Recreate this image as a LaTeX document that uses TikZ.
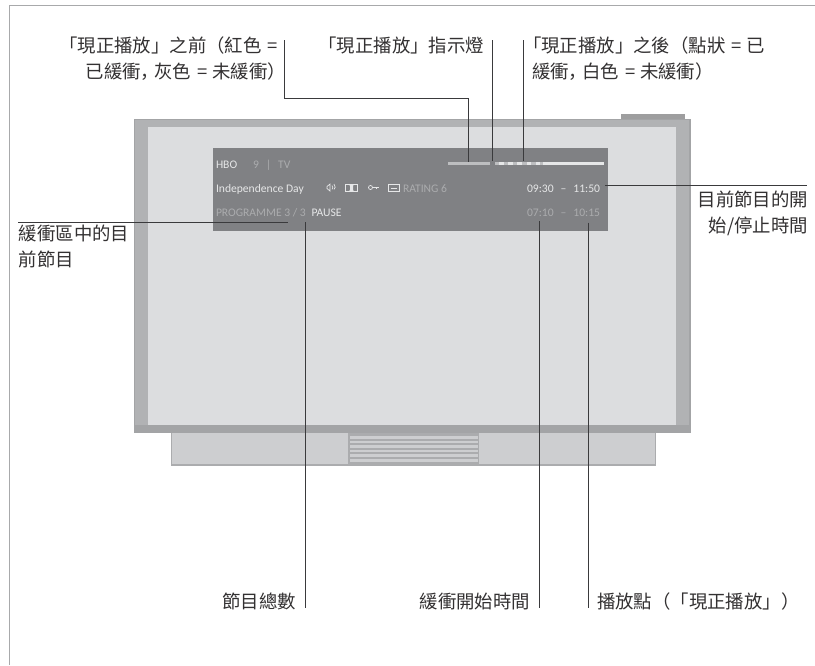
\documentclass[tikz,border=0pt]{standalone}
\usepackage{fontspec}
\setmainfont{Noto Sans CJK TC}[Scale=1]
\newfontfamily\sccomma{Noto Sans CJK SC}
\newfontfamily\osdfont{Carlito}
\newcommand{\cjkcomma}{{\sccomma ，}\hspace{-5pt}}
\newcommand{\eqgap}{\hspace{6pt}=\hspace{5pt}}
\definecolor{frameC}{HTML}{A8A9AB}
\definecolor{tvOuter}{HTML}{B1B2B4}
\definecolor{tvEdge}{HTML}{A3A4A6}
\definecolor{tvHandle}{HTML}{9E9E9F}
\definecolor{tvScreen}{HTML}{DCDDDF}
\definecolor{standC}{HTML}{CDCED0}
\definecolor{standEdge}{HTML}{ABACAE}
\definecolor{panelC}{HTML}{808184}
\definecolor{osdDim}{HTML}{ABACAE}
\definecolor{osdBright}{HTML}{E6E7E8}
\definecolor{barGrey}{HTML}{BDBEC0}
\definecolor{leaderC}{HTML}{3A3A3C}
\definecolor{labelC}{HTML}{333132}
\tikzset{
  x=1pt,y=-1pt,
  label text/.style={font=\fontsize{18.4}{25.5}\selectfont,text=labelC,inner sep=0pt,outer sep=0pt,align=#1},
  label text/.default=left,
  leader/.style={draw=leaderC,line width=0.9pt},
  osd/.style={font=\osdfont\fontsize{11.6}{13}\selectfont,inner sep=0pt,outer sep=0pt,anchor=base west},
  osdicon/.style={draw=osdBright,line width=0.7pt},
}
\begin{document}
\begin{tikzpicture}
\useasboundingbox[fill=white] (0,0) rectangle (815,665);
% page frame
\draw[frameC,line width=1pt] (9.5,665) -- (9.5,5.5) -- (815,5.5);
% TV
\fill[tvHandle] (621,114) rectangle (685,120);
\fill[tvEdge] (134,119) rectangle (691,433);
\fill[tvOuter] (135,120) rectangle (689,425);
\fill[tvScreen] (148,127) rectangle (676,425);
% stand
\fill[standEdge] (170.5,433) rectangle (656,466);
\fill[standC] (172,433) rectangle (347.5,464);
\fill[standC] (478.5,433) rectangle (654.5,464);
\fill[standC] (349.5,434) rectangle (477.5,464);
\foreach \yy in {434,438.6,443.2,447.8,452.4,457,461.6}{
  \fill[standEdge] (349.5,\yy) rectangle (477.5,\yy+2);
}
% OSD panel
\fill[panelC] (213,148) rectangle (608,231);
\node[osd,text=osdBright] (hbo) at (216,168) {HBO};
\node[osd,text=osdDim] (chan) at (253,168) {9\hspace{7pt}|\hspace{7pt}TV};
\node[osd,text=osdBright] (title) at (216,192.5) {Independence Day};
\node[osd,text=osdDim] (rating) at (403,192.5) {RATING 6};
\node[osd,text=osdBright] (curtime) at (527,192.5) {09:30\hspace{7pt}–\hspace{7pt}11:50};
\node[osd,text=osdDim] (prog) at (216,216) {PROGRAMME 3 / 3};
\node[osd,text=osdBright] (pause) at (311.5,216) {PAUSE};
\node[osd,text=osdDim] (buftime) at (527,216) {07:10\hspace{7pt}–\hspace{7pt}10:15};
% OSD icons
\draw[osdicon] (327,186.5) -- (330,184) -- (330,191) -- (327,188.5) -- cycle;
\draw[osdicon] (332,185.5) arc (-50:50:2.5 and 2.5);
\draw[osdicon] (334,184) arc (-50:50:3.5 and 3.5);
\draw[osdicon] (345.5,184) rectangle (357.5,191.5);
\fill[osdBright] (349,184) -- (354,184) -- (353,186) -- (353,189.5) -- (354,191.5) -- (349,191.5) -- (350,189.5) -- (350,186) -- cycle;
\draw[osdicon] (370.5,187.5) circle (2);
\draw[osdicon] (372.5,187.5) -- (379,187.5) (376.5,187.5) -- (376.5,189.2);
\draw[osdicon] (388.5,184) rectangle (399,191.5);
\draw[osdicon] (390.5,188.3) -- (397,188.3);
% progress bar
\fill[barGrey] (448,162) rectangle (490,165);
\fill[osdBright] (495,162) rectangle (604,165);
\fill[barGrey] (495,162) rectangle (543,165);
\foreach \xx in {499,508,517,526.5,535.5}{\fill[osdBright] (\xx,162) rectangle (\xx+4.5,165);}
% labels
\node[label text=right,anchor=north east] (before) at (278,37) {「現正播放」之前（紅色\hspace{6pt}=\kern0pt\\已緩衝\cjkcomma 灰色\eqgap{}未緩衝）\kern-8pt};
\node[label text,anchor=north east] (lamp) at (484,37) {「現正播放」指示燈};
\node[label text,anchor=north west] (after) at (532,37) {\kern-9pt「現正播放」之後（點狀\eqgap{}已\\緩衝\cjkcomma 白色\eqgap{}未緩衝）};
\node[label text=right,anchor=north east] (curlabel) at (808,191) {目前節目的開\\始/停止時間};
\node[label text,anchor=north west] (buflabel) at (19,225) {緩衝區中的目\\前節目};
\node[label text,anchor=base east] (total) at (296,608) {節目總數};
\node[label text,anchor=base east] (bufstart) at (530,608) {緩衝開始時間};
\node[label text,anchor=base west] (playpt) at (597,608) {播放點（「現正播放」）};
% connector ends
\coordinate (a1) at (284.5,40);
\coordinate (a2) at (284.5,98.5);
\coordinate (a3) at (468.5,98.5);
\coordinate (a4) at (468.5,162);
\coordinate (b1) at (492.5,40);
\coordinate (b2) at (492.5,161);
\coordinate (c1) at (523,40);
\coordinate (c2) at (523,161);
\coordinate (d1) at (605,185);
\coordinate (d2) at (807,185);
\coordinate (e1) at (18,222);
\coordinate (e2) at (288,222);
\coordinate (f1) at (305,222);
\coordinate (f2) at (305,608);
\coordinate (g1) at (539.5,221);
\coordinate (g2) at (539.5,608);
\coordinate (h1) at (588,222.5);
\coordinate (h2) at (588,608);
\draw[leader] (a1) -- (a2) -- (a3) -- (a4);
\draw[leader] (b1) -- (b2);
\draw[leader] (c1) -- (c2);
\draw[leader] (d1) -- (d2);
\draw[leader] (e1) -- (e2);
\draw[leader] (f1) -- (f2);
\draw[leader] (g1) -- (g2);
\draw[leader] (h1) -- (h2);
\end{tikzpicture}
\end{document}
